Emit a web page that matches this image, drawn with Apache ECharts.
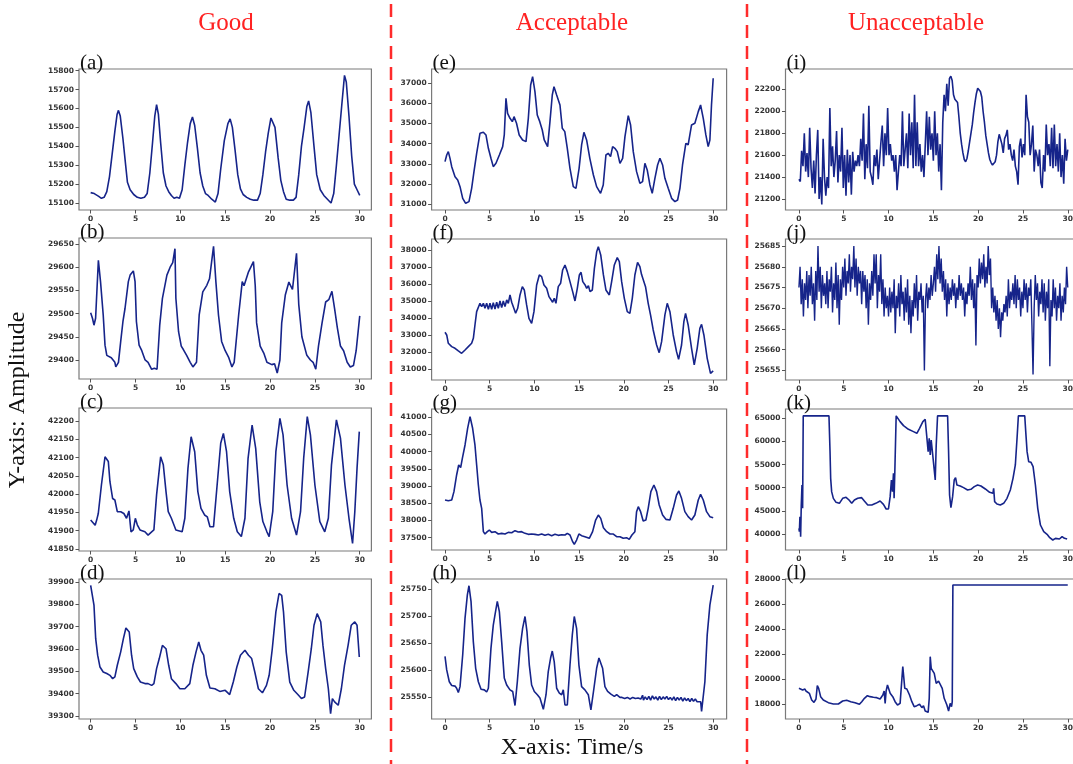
<!DOCTYPE html>
<html><head><meta charset="utf-8">
<script src="https://cdn.jsdelivr.net/npm/echarts@6/dist/echarts.min.js"></script>
<style>html,body{margin:0;padding:0;background:#fff;overflow:hidden}#c{width:1073px;height:764px}</style>
</head><body><div id="c"></div>
<script>
// ---------- data ----------
const xTicks = [0,5,10,15,20,25,30];
const columnTitles = ['Good','Acceptable','Unacceptable'];
const panelLetters = ['a','b','c','d','e','f','g','h','i','j','k','l'];

const ticksA = [15100,15200,15300,15400,15500,15600,15700,15800];
const ticksB = [29400,29450,29500,29550,29600,29650];
const ticksC = [41850,41900,41950,42000,42050,42100,42150,42200];
const ticksD = [39300,39400,39500,39600,39700,39800,39900];
const ticksE = [31000,32000,33000,34000,35000,36000,37000];
const ticksF = [31000,32000,33000,34000,35000,36000,37000,38000];
const ticksG = [37500,38000,38500,39000,39500,40000,40500,41000];
const ticksH = [25550,25600,25650,25700,25750];
const ticksI = [21200,21400,21600,21800,22000,22200];
const ticksJ = [25655,25660,25665,25670,25675,25680,25685];
const ticksK = [40000,45000,50000,55000,60000,65000];
const ticksL = [18000,20000,22000,24000,26000,28000];

const dataA = [[0,15155],[0.2,15145],[0.4,15150],[0.6,15140],[0.9,15135],[1.2,15125],[1.5,15130],[1.8,15160],[2.1,15240],[2.4,15360],[2.7,15480],[2.95,15570],[3.1,15590],[3.3,15560],[3.6,15440],[3.9,15300],[4.1,15210],[4.4,15170],[4.8,15145],[5.2,15130],[5.6,15125],[6.0,15130],[6.3,15150],[6.6,15260],[6.9,15420],[7.15,15560],[7.35,15620],[7.55,15570],[7.8,15420],[8.1,15260],[8.4,15190],[8.7,15160],[9.0,15140],[9.3,15125],[9.6,15130],[9.9,15125],[10.2,15170],[10.5,15300],[10.8,15420],[11.1,15520],[11.35,15555],[11.6,15510],[11.9,15390],[12.2,15260],[12.5,15190],[12.8,15150],[13.1,15140],[13.5,15120],[13.9,15105],[14.2,15150],[14.5,15280],[14.9,15430],[15.3,15520],[15.55,15545],[15.8,15500],[16.1,15380],[16.4,15250],[16.7,15175],[17.0,15145],[17.4,15130],[17.8,15120],[18.2,15115],[18.6,15115],[18.9,15150],[19.2,15250],[19.5,15370],[19.8,15470],[20.1,15550],[20.3,15555],[20.55,15500],[20.9,15340],[21.2,15220],[21.5,15160],[21.8,15120],[22.2,15115],[22.6,15115],[22.9,15130],[23.2,15250],[23.5,15400],[23.8,15500],[24.1,15610],[24.3,15640],[24.55,15580],[24.9,15400],[25.2,15250],[25.6,15170],[26.0,15140],[26.4,15120],[26.8,15100],[27.1,15150],[27.4,15300],[27.7,15460],[28.0,15620],[28.3,15775],[28.5,15740],[28.8,15560],[29.1,15350],[29.4,15200],[29.7,15170],[30,15140]];

const dataB = [[0,29502],[0.2,29490],[0.37,29475],[0.55,29490],[0.86,29615],[1.1,29569],[1.4,29497],[1.6,29432],[1.8,29410],[2.0,29412],[2.3,29405],[2.5,29408],[2.7,29395],[2.8,29385],[3.1,29395],[3.35,29440],[3.6,29483],[3.83,29511],[4.2,29569],[4.4,29583],[4.6,29585],[4.76,29592],[4.95,29569],[5.1,29483],[5.4,29432],[5.7,29420],[6.07,29400],[6.4,29395],[6.8,29380],[7.1,29382],[7.4,29380],[7.7,29475],[8.0,29533],[8.5,29583],[8.86,29600],[9.15,29610],[9.4,29640],[9.5,29533],[9.8,29461],[10.1,29430],[10.35,29422],[10.7,29410],[11.1,29395],[11.4,29385],[11.8,29395],[12.1,29497],[12.5,29547],[12.95,29561],[13.25,29575],[13.7,29645],[13.96,29569],[14.25,29497],[14.6,29440],[15.0,29420],[15.4,29405],[15.75,29385],[16.0,29395],[16.5,29497],[16.9,29569],[17.1,29560],[17.6,29590],[18.15,29612],[18.35,29560],[18.5,29480],[18.9,29430],[19.3,29415],[19.65,29395],[20.2,29390],[20.5,29392],[20.8,29372],[21.1,29400],[21.3,29480],[21.7,29540],[22.1,29568],[22.5,29552],[22.95,29630],[23.2,29520],[23.55,29450],[24.1,29410],[24.5,29400],[24.8,29395],[25.1,29380],[25.4,29430],[25.8,29480],[26.2,29525],[26.55,29530],[26.9,29548],[27.2,29510],[27.5,29470],[27.85,29430],[28.2,29420],[28.6,29395],[28.95,29385],[29.3,29388],[29.6,29420],[30,29495]];

const dataC = [[0,41929],[0.5,41915],[0.67,41929],[0.85,41947],[1.2,42025],[1.6,42102],[1.97,42089],[2.15,42034],[2.45,41988],[2.7,41984],[2.97,41952],[3.35,41952],[3.7,41947],[4.0,41934],[4.27,41954],[4.5,41897],[4.75,41902],[4.98,41934],[5.2,41916],[5.5,41902],[6.05,41897],[6.4,41888],[6.8,41897],[7.05,41902],[7.35,41998],[7.8,42102],[8.1,42080],[8.4,42007],[8.65,41952],[9.0,41934],[9.5,41902],[10.2,41897],[10.5,41934],[10.85,42071],[11.2,42157],[11.6,42116],[11.95,42007],[12.3,41961],[12.7,41943],[13.0,41938],[13.3,41911],[13.7,41911],[14.1,42025],[14.5,42139],[14.8,42166],[15.15,42116],[15.5,42007],[15.95,41934],[16.35,41897],[16.8,41884],[17.2,41934],[17.55,42098],[18.0,42189],[18.4,42125],[18.85,41979],[19.2,41925],[19.65,41897],[19.9,41884],[20.3,41952],[20.65,42116],[21.1,42207],[21.45,42162],[21.9,42025],[22.4,41934],[22.95,41888],[23.4,41952],[23.75,42098],[24.15,42212],[24.5,42162],[25.0,42025],[25.55,41925],[26.1,41897],[26.5,41934],[26.85,42080],[27.4,42203],[27.85,42153],[28.35,42025],[28.8,41934],[29.2,41865],[29.45,41952],[29.7,42071],[29.95,42171]];

const dataD = [[0,39885],[0.2,39878],[0.37,39796],[0.56,39646],[0.78,39572],[1.04,39519],[1.4,39497],[1.8,39490],[2.15,39482],[2.45,39467],[2.7,39475],[2.97,39527],[3.35,39587],[3.65,39646],[3.93,39694],[4.3,39676],[4.56,39572],[4.8,39512],[5.2,39475],[5.55,39452],[6.05,39445],[6.4,39445],[6.8,39437],[7.05,39445],[7.35,39512],[7.65,39557],[8.0,39616],[8.4,39601],[8.7,39527],[9.0,39467],[9.5,39445],[9.95,39422],[10.5,39422],[11.05,39445],[11.4,39527],[11.75,39587],[12.05,39631],[12.3,39594],[12.6,39572],[12.9,39482],[13.3,39425],[13.85,39422],[14.4,39410],[15.0,39415],[15.5,39396],[15.9,39452],[16.3,39519],[16.7,39572],[17.2,39594],[17.6,39572],[17.95,39557],[18.3,39497],[18.7,39422],[19.15,39404],[19.6,39437],[19.9,39482],[20.25,39601],[20.65,39766],[21.0,39848],[21.3,39840],[21.5,39766],[21.8,39587],[22.2,39452],[22.65,39415],[23.1,39396],[23.5,39378],[23.85,39385],[24.25,39497],[24.6,39601],[24.9,39706],[25.25,39758],[25.65,39721],[25.9,39616],[26.2,39512],[26.5,39422],[26.75,39310],[26.95,39378],[27.2,39363],[27.6,39348],[27.95,39422],[28.3,39527],[28.7,39616],[29.05,39706],[29.45,39721],[29.7,39706],[29.95,39564]];

const dataE = [[0,33105],[0.19,33437],[0.37,33603],[0.56,33270],[0.75,32857],[0.93,32775],[1.12,32360],[1.42,32195],[1.68,31863],[1.98,31283],[2.31,31035],[2.68,31118],[2.98,31780],[3.24,32609],[3.54,33520],[3.91,34515],[4.29,34564],[4.58,34432],[4.85,33769],[5.14,33272],[5.4,32857],[5.7,33023],[6.08,33437],[6.45,33851],[6.63,34432],[6.82,36254],[7.0,35509],[7.27,35260],[7.53,35094],[7.72,35343],[8.0,35012],[8.3,34432],[8.68,34183],[9.06,34100],[9.32,35260],[9.58,36917],[9.8,37331],[10.06,36586],[10.32,35426],[10.6,35094],[10.88,34680],[11.1,34183],[11.48,33851],[11.74,35094],[12.0,36420],[12.19,36834],[12.49,36420],[12.86,35923],[13.12,34763],[13.4,34597],[13.68,33769],[13.98,32775],[14.35,31863],[14.65,31780],[15.0,32775],[15.28,33935],[15.54,34564],[15.84,34183],[16.2,33272],[16.6,32443],[16.96,31863],[17.4,31532],[17.7,31946],[18.0,33437],[18.26,33520],[18.52,33354],[18.75,33851],[19.0,33769],[19.27,33603],[19.57,33023],[19.87,33272],[20.13,34349],[20.5,35393],[20.76,34929],[21.06,33603],[21.43,32609],[21.8,32029],[22.1,32112],[22.36,33023],[22.62,32692],[22.92,31946],[23.18,31532],[23.48,32278],[23.78,32940],[24.04,33272],[24.34,32940],[24.6,32278],[24.97,31780],[25.35,31283],[25.72,31118],[26.02,31200],[26.28,31780],[26.57,32940],[26.94,34017],[27.2,33935],[27.58,34929],[27.95,35012],[28.33,35592],[28.59,35923],[28.89,35260],[29.18,34432],[29.44,33851],[29.63,34183],[29.81,35923],[30,37249]];

const dataF = [[0,33176],[0.19,33019],[0.37,32529],[0.75,32333],[1.12,32235],[1.49,32078],[1.86,31941],[2.24,32137],[2.61,32333],[2.98,32529],[3.17,32823],[3.35,33607],[3.54,34392],[3.73,34490],[3.91,34882],[4.1,34686],[4.29,34882],[4.47,34588],[4.66,34882],[4.85,34529],[5.03,34882],[5.22,34529],[5.4,34921],[5.59,34549],[5.78,34941],[5.96,34588],[6.15,35019],[6.34,34627],[6.52,35019],[6.71,34686],[6.9,35078],[7.08,34882],[7.27,35372],[7.46,34941],[7.64,34882],[7.9,34294],[8.13,34588],[8.39,35372],[8.65,35862],[8.87,35666],[9.13,34784],[9.39,34000],[9.69,33705],[9.95,34392],[10.25,35961],[10.55,36549],[10.81,36451],[11.07,35961],[11.37,35764],[11.63,35274],[11.85,35176],[12.04,34941],[12.22,35176],[12.41,34882],[12.67,35862],[12.93,36058],[13.16,36843],[13.42,37137],[13.68,36745],[13.98,36157],[14.28,35568],[14.54,35019],[14.8,35764],[15.03,36549],[15.22,36706],[15.41,36157],[15.67,35961],[15.85,35764],[16.04,35921],[16.22,35568],[16.48,35666],[16.71,36941],[16.97,37922],[17.15,38216],[17.42,37725],[17.72,36549],[18.0,35666],[18.38,35372],[18.64,36157],[18.94,37137],[19.27,37569],[19.5,37333],[19.76,36157],[20.06,35176],[20.39,34392],[20.68,34294],[20.95,35176],[21.24,36549],[21.54,37294],[21.8,37039],[21.98,36588],[22.17,36549],[22.43,35862],[22.73,34882],[22.99,34196],[23.29,33313],[23.67,32431],[23.96,31980],[24.23,32627],[24.6,34196],[24.86,34882],[25.16,34392],[25.53,33019],[25.9,32039],[26.13,31588],[26.46,32431],[26.72,33803],[26.91,34294],[27.2,33607],[27.58,32235],[27.88,31254],[28.21,32235],[28.51,33411],[28.7,33646],[28.96,33019],[29.33,31646],[29.7,30764],[30,30901]];

const dataG = [[0,38596],[0.37,38576],[0.75,38596],[1.0,38838],[1.3,39323],[1.53,39614],[1.75,39536],[1.94,39807],[2.24,40195],[2.53,40680],[2.8,41019],[3.09,40680],[3.35,40195],[3.54,39614],[3.73,39032],[3.91,38596],[4.1,38353],[4.29,37675],[4.47,37607],[4.73,37675],[4.96,37723],[5.22,37655],[5.59,37675],[5.96,37607],[6.34,37626],[6.71,37607],[7.08,37655],[7.46,37645],[7.83,37704],[8.2,37665],[8.57,37675],[8.95,37626],[9.32,37597],[9.69,37607],[10.06,37597],[10.44,37578],[10.81,37607],[11.18,37568],[11.55,37597],[11.93,37558],[12.3,37597],[12.67,37568],[13.05,37587],[13.42,37578],[13.68,37626],[13.98,37578],[14.28,37384],[14.46,37306],[14.72,37432],[14.98,37607],[15.28,37558],[15.65,37529],[16.14,37481],[16.51,37675],[16.85,38014],[17.15,38159],[17.42,38062],[17.72,37791],[18.09,37675],[18.46,37607],[18.83,37607],[19.2,37529],[19.57,37529],[19.94,37481],[20.31,37500],[20.61,37452],[20.91,37578],[21.24,37675],[21.43,38256],[21.62,38402],[21.88,38256],[22.17,37985],[22.47,38014],[22.73,38353],[23.03,38838],[23.37,39032],[23.67,38838],[23.96,38450],[24.34,38159],[24.71,38033],[25.16,38014],[25.53,38353],[25.9,38741],[26.16,38857],[26.46,38644],[26.83,38256],[27.2,38111],[27.58,38014],[27.95,38159],[28.33,38596],[28.59,38760],[28.89,38596],[29.26,38256],[29.63,38111],[30,38082]];

const dataH = [[0,25625],[0.19,25600],[0.48,25578],[0.75,25571],[1.12,25570],[1.3,25566],[1.49,25558],[1.68,25569],[1.98,25628],[2.24,25696],[2.5,25739],[2.68,25756],[2.91,25727],[3.17,25652],[3.43,25603],[3.73,25578],[4.03,25564],[4.4,25563],[4.66,25559],[4.85,25566],[5.14,25640],[5.4,25683],[5.59,25702],[5.85,25727],[6.08,25708],[6.34,25652],[6.63,25585],[6.9,25572],[7.27,25563],[7.57,25560],[7.83,25534],[8.09,25578],[8.39,25640],[8.68,25677],[8.95,25699],[9.17,25671],[9.43,25609],[9.69,25572],[9.99,25560],[10.33,25554],[10.62,25548],[11.0,25527],[11.3,25554],[11.55,25597],[11.81,25622],[12.0,25635],[12.22,25615],[12.49,25566],[12.79,25557],[13.05,25554],[13.23,25563],[13.42,25535],[13.68,25535],[13.98,25609],[14.24,25665],[14.46,25699],[14.72,25677],[14.98,25609],[15.28,25569],[15.65,25563],[16.03,25554],[16.32,25526],[16.66,25566],[16.96,25603],[17.22,25622],[17.4,25623],[17.63,25603],[17.89,25569],[18.19,25560],[18.56,25555],[18.94,25551],[19.2,25554],[19.57,25549],[19.8,25549],[20.1,25547],[20.4,25549],[20.7,25546],[21.0,25549],[21.3,25547],[21.6,25548],[21.9,25546],[22.1,25553],[22.2,25544],[22.4,25550],[22.6,25545],[22.8,25551],[23.0,25544],[23.2,25552],[23.4,25546],[23.6,25550],[23.8,25544],[24.0,25551],[24.2,25545],[24.4,25550],[24.6,25546],[24.8,25551],[25.0,25545],[25.2,25549],[25.4,25544],[25.6,25550],[25.8,25543],[26.0,25549],[26.2,25544],[26.4,25549],[26.6,25542],[26.8,25548],[27.0,25543],[27.2,25547],[27.4,25541],[27.6,25547],[27.8,25542],[28.0,25546],[28.2,25541],[28.4,25544],[28.6,25541],[28.7,25523],[28.9,25523],[29.07,25578],[29.33,25665],[29.63,25720],[30,25757]];

// panel (i): sampled every 0.15 s
const dtI = 0.15;
const valuesI = [21380,21360,21640,21500,21800,21450,21620,21400,21850,21480,21300,21550,21250,21600,21830,21200,21400,21150,21750,21400,21230,21400,21300,22030,21500,21680,21400,21550,21820,21350,21600,21450,21850,21300,21600,21230,21650,21350,21600,21240,21630,21450,21550,21500,21600,21500,21750,21550,21980,21380,21700,21480,22050,21450,21400,21330,21600,21500,21650,21380,21550,21720,21870,21500,21800,21600,22030,21600,21700,21550,21600,21450,21600,21280,21450,21600,21500,22000,21500,21650,21800,21480,21980,21600,21900,21480,22150,21500,21900,21500,21700,21450,21600,21400,21700,22000,21600,21950,21650,21800,21550,22000,21600,21800,21450,21700,21280,21900,22150,22000,22250,22050,22300,22320,22280,22150,22110,22100,22080,21950,21800,21700,21620,21560,21540,21570,21640,21720,21800,21880,21990,22080,22160,22210,22220,22180,22130,22000,21900,21780,21700,21620,21560,21530,21510,21510,21540,21600,21720,21790,21800,21700,21620,21750,21780,21830,21650,21700,21600,21550,21650,21500,21450,21330,21680,21750,21580,21700,21600,22150,21950,21900,21600,21700,21870,21450,21650,21600,21500,21650,21350,21300,21600,21450,21880,21600,21700,21500,21850,21480,21880,21500,21700,21450,21800,21400,21600,21340,21750,21550,21650];

// panel (j): sampled every 0.125 s
const dtJ = 0.125;
const valuesJ = [25675,25680,25671,25677,25668,25676,25672,25679,
25670,25678,25673,25680,25671,25676,25667,25679,
25672,25685,25674,25680,25670,25678,25673,25676,
25671,25679,25670,25677,25674,25680,25669,25676,
25672,25681,25670,25678,25666,25677,25672,25680,
25675,25682,25673,25679,25676,25683,25674,25680,
25677,25685,25675,25682,25673,25680,25676,25679,
25671,25679,25674,25678,25670,25677,25666,25676,
25672,25679,25673,25683,25676,25683,25670,25678,
25674,25683,25671,25677,25668,25675,25670,25673,
25668,25675,25669,25674,25670,25677,25664,25673,
25670,25676,25668,25678,25671,25674,25667,25675,
25669,25677,25666,25673,25664,25672,25668,25676,
25670,25678,25667,25674,25672,25676,25669,25673,
25655,25672,25676,25670,25675,25672,25678,25673,
25676,25680,25674,25683,25677,25685,25676,25682,
25674,25679,25672,25677,25668,25676,25671,25675,
25672,25677,25673,25676,25670,25675,25672,25678,
25673,25676,25672,25675,25668,25674,25671,25676,
25673,25680,25672,25677,25670,25676,25661,25678,
25675,25682,25676,25681,25677,25683,25675,25680,
25676,25685,25678,25682,25670,25675,25669,25673,
25667,25672,25665,25670,25663,25669,25667,25671,
25669,25673,25668,25677,25670,25674,25672,25676,
25671,25678,25670,25677,25672,25675,25668,25674,
25670,25677,25672,25676,25669,25675,25673,25677,
25666,25654,25670,25678,25672,25676,25668,25674,
25671,25677,25669,25676,25667,25674,25670,25677,
25656,25672,25668,25677,25670,25675,25667,25673,
25670,25676,25667,25673,25669,25675,25671,25680,
25675];

const dataK = [[0,41223],[0.05,40500],[0.11,43745],[0.19,39422],[0.26,46267],[0.34,50590],[0.41,45546],[0.48,65535],[3.35,65535],[3.47,57795],[3.54,52031],[3.65,49149],[3.84,47708],[4.14,46843],[4.51,46627],[4.88,47708],[5.26,47924],[5.59,47348],[5.89,46627],[6.19,47348],[6.56,47708],[7.0,47852],[7.3,47132],[7.68,46267],[8.13,46267],[8.57,46627],[9.06,47132],[9.43,46411],[9.73,45402],[9.99,45402],[10.18,48068],[10.32,51671],[10.44,49149],[10.55,53112],[10.62,47708],[10.7,53472],[10.85,65535],[10.99,65360],[11.29,64280],[11.67,63415],[12.22,62622],[12.78,62118],[13.16,61758],[13.46,62838],[13.83,64280],[14.09,64784],[14.27,64640],[14.42,57795],[14.54,60677],[14.65,57075],[14.76,60317],[14.95,56714],[15.21,51671],[15.32,59236],[15.47,65535],[16.59,65535],[16.7,57795],[16.81,48428],[16.96,45690],[17.15,48068],[17.33,51671],[17.48,52175],[17.63,50590],[18.0,50374],[18.37,50014],[18.82,49509],[19.19,49653],[19.57,50230],[19.94,50590],[20.31,50374],[20.8,49726],[21.28,49005],[21.65,48789],[21.73,49870],[21.84,46987],[22.1,46483],[22.47,46267],[22.85,46627],[23.22,47708],[23.59,49509],[23.89,52031],[24.15,54913],[24.34,60677],[24.49,65535],[25.2,65535],[25.31,62118],[25.46,57795],[25.64,55633],[25.9,55489],[26.13,54553],[26.39,50590],[26.65,45546],[26.95,41944],[27.32,40503],[27.69,39927],[27.99,39206],[28.33,38702],[28.63,39062],[28.81,38702],[29.07,38918],[29.37,39422],[29.63,39062],[29.93,38918]];

const dataL = [[0,19275],[0.19,19195],[0.41,19142],[0.56,19009],[0.67,19222],[0.78,19062],[0.93,19142],[1.16,18876],[1.42,18344],[1.68,18158],[1.9,18424],[2.05,19488],[2.2,19275],[2.42,18610],[2.72,18344],[3.28,18131],[3.84,18025],[4.4,18025],[4.88,18264],[5.33,18318],[5.78,18211],[6.26,18131],[6.75,17998],[7.01,18211],[7.31,18477],[7.64,18690],[7.94,18610],[8.31,18557],[8.68,18530],[9.06,18424],[9.24,18477],[9.36,18743],[9.51,19062],[9.62,18078],[9.73,19062],[9.88,19541],[10.03,19408],[10.18,18876],[10.47,18610],[10.73,18211],[11.0,17945],[11.29,18078],[11.48,18211],[11.59,21004],[11.7,20871],[11.81,19275],[12.04,19222],[12.34,18743],[12.6,18211],[12.86,17813],[13.16,17892],[13.46,17998],[13.72,17732],[13.9,17892],[14.09,17466],[14.27,17546],[14.42,17360],[14.54,18477],[14.65,21802],[14.76,20871],[14.95,20738],[15.1,20472],[15.32,19674],[15.58,19860],[15.77,19940],[15.99,19275],[16.21,18477],[16.51,17945],[16.7,17466],[16.88,18078],[17.03,17813],[17.11,18211],[17.18,27521],[30,27521]];

// ---------- layout ----------
const seriesI = valuesI.map((v,k)=>[+(k*dtI).toFixed(3), v]);
const seriesJ = valuesJ.map((v,k)=>[+(k*dtJ).toFixed(3), v]);

const panels = [
  {d:dataA, t:ticksA, y:[15063,15809], left:79, top:69, w:292.4, h:141, x:[-1.3,31.3]},
  {d:dataB, t:ticksB, y:[29359,29663], left:79, top:238, w:292.4, h:141, x:[-1.3,31.3]},
  {d:dataC, t:ticksC, y:[41844.5,42235.5], left:79, top:408, w:292.4, h:143, x:[-1.3,31.3]},
  {d:dataD, t:ticksD, y:[39286.6,39913], left:79, top:579, w:292.4, h:140, x:[-1.3,31.3]},
  {d:dataE, t:ticksE, y:[30702,37711], left:431.6, top:69, w:295, h:141, x:[-1.5,31.5]},
  {d:dataF, t:ticksF, y:[30370,38665], left:431.6, top:239, w:295, h:141, x:[-1.5,31.5]},
  {d:dataG, t:ticksG, y:[37142,41241], left:431.6, top:409, w:295, h:141, x:[-1.5,31.5]},
  {d:dataH, t:ticksH, y:[25509,25768.5], left:431.6, top:579, w:295, h:140, x:[-1.5,31.5]},
  {d:seriesI, t:ticksI, y:[21100,22385], left:785.5, top:69, w:295.7, h:141, x:[-1.5,31.5]},
  {d:seriesJ, t:ticksJ, y:[25652.7,25686.7], left:785.5, top:239, w:295.7, h:141, x:[-1.5,31.5], lw:1.4},
  {d:dataK, t:ticksK, y:[36543,67010], left:785.5, top:409, w:295.7, h:141, x:[-1.5,31.5]},
  {d:dataL, t:ticksL, y:[16827,28000], left:785.5, top:579, w:295.7, h:140, x:[-1.5,31.5]}
];

const fmt = v => String(Math.round(v));
const labelStyle = {fontSize:7.5, fontWeight:'bold', color:'#333', fontFamily:'DejaVu Sans', formatter:fmt, hideOverlap:false};
const grid=[], xAxis=[], yAxis=[], series=[], graphic=[];
panels.forEach((p,k)=>{
  grid.push({left:p.left, top:p.top, width:p.w, height:p.h, show:true, borderColor:'#7a7a7a', borderWidth:1.2,
    backgroundColor:'transparent', containLabel:false, outerBoundsMode:'none'});
  xAxis.push({type:'value', gridIndex:k, min:p.x[0], max:p.x[1], position:'bottom',
    axisLine:{show:false, onZero:false}, splitLine:{show:false},
    axisTick:{show:true, inside:false, length:3.5, lineStyle:{color:'#555'}, customValues:xTicks},
    axisLabel:Object.assign({margin:5, customValues:xTicks}, labelStyle)});
  yAxis.push({type:'value', gridIndex:k, min:p.y[0], max:p.y[1], position:'left',
    axisLine:{show:false, onZero:false}, splitLine:{show:false},
    axisTick:{show:true, inside:false, length:3.5, lineStyle:{color:'#555'}, customValues:p.t},
    axisLabel:Object.assign({margin:5, customValues:p.t}, labelStyle)});
  series.push({type:'line', xAxisIndex:k, yAxisIndex:k, data:p.d, showSymbol:false, symbol:'none',
    lineStyle:{color:'#16248a', width:p.lw||1.6}, silent:true, clip:true, animation:false});
  graphic.push({type:'text', left:p.left+1, top:p.top-16, z:100,
    style:{text:'('+panelLetters[k]+')', fill:'#111', fontSize:21, fontFamily:'Liberation Serif'}});
});

const titleX = [226, 572, 916];
columnTitles.forEach((s,i)=>graphic.push({type:'text', x:titleX[i], y:23, z:100,
  style:{text:s, fill:'#ff2222', fontSize:25, fontFamily:'Liberation Serif', align:'center', verticalAlign:'middle'}}));
[391, 747].forEach(x=>graphic.push({type:'line', z:100,
  shape:{x1:x, y1:4, x2:x, y2:764}, style:{stroke:'#ff2b2b', lineWidth:2.5, lineDash:[13,8]}}));
graphic.push({type:'text', x:18, y:400, rotation:Math.PI/2, z:100,
  style:{text:'Y-axis: Amplitude', fill:'#111', fontSize:24, fontFamily:'Liberation Serif', align:'center', verticalAlign:'middle'}});
graphic.push({type:'text', x:572, y:748, z:100,
  style:{text:'X-axis: Time/s', fill:'#111', fontSize:24, fontFamily:'Liberation Serif', align:'center', verticalAlign:'middle'}});

const chart = echarts.init(document.getElementById('c'), null, {renderer:'canvas'});
chart.setOption({animation:false, backgroundColor:'#fff', grid, xAxis, yAxis, series, graphic});
</script></body></html>
